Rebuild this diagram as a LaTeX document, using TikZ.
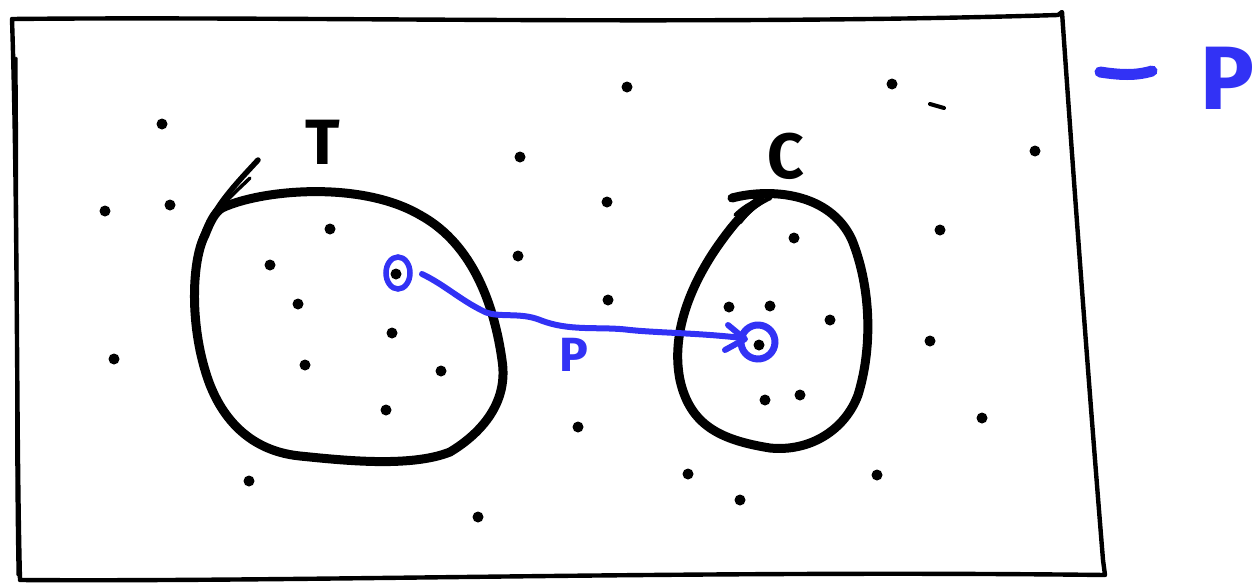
\documentclass[tikz,border=0pt]{standalone}
\usepackage{fontspec}
\setmainfont{Fira Sans}
\usetikzlibrary{arrows.meta,shapes.geometric}
\definecolor{pen}{RGB}{50,50,245}
\tikzset{
  frame/.style={line width=4.4pt, line join=round, line cap=round},
  blob/.style={line width=9pt, line join=round, line cap=round},
  speck/.style={fill=black, draw=none},
  blueline/.style={draw=pen, line width=6pt, line cap=round, line join=round},
  lbl/.style={inner sep=0pt, font=\fontsize{62}{62}\selectfont}
}
\begin{document}
\begin{tikzpicture}[x=1pt,y=-1pt]
\useasboundingbox (0,0) rectangle (1253,584);
% frame
\draw[frame] (12,19) .. controls (300,16) and (700,26) .. (1058,15) -- (1062,12)
  .. controls (1075,200) and (1090,400) .. (1103,560) -- (1105,575)
  .. controls (700,570) and (300,582) .. (20,580)
  .. controls (16,420) and (18,200) .. (12,19);
\draw[frame, line width=3pt] (16,58) .. controls (18,250) and (15,420) .. (18,575);
% blob T
\draw[blob] (222,208) .. controls (260,190) and (360,180) .. (420,215)
  .. controls (475,245) and (495,310) .. (502,360)
  .. controls (510,410) and (470,440) .. (450,452)
  .. controls (410,468) and (340,460) .. (300,456)
  .. controls (240,450) and (215,405) .. (205,370)
  .. controls (190,320) and (192,260) .. (205,235)
  .. controls (210,222) and (215,212) .. (222,208);
\draw[line width=5.5pt, line cap=round] (202,238) .. controls (215,205) and (235,185) .. (258,160);
\draw[line width=3.5pt, line cap=round] (212,220) .. controls (225,200) and (240,188) .. (250,178);
% blob C
\draw[blob] (732,198) .. controls (770,188) and (830,192) .. (852,240)
  .. controls (872,290) and (872,350) .. (858,395)
  .. controls (845,430) and (810,452) .. (770,448)
  .. controls (720,440) and (690,425) .. (680,380)
  .. controls (672,340) and (685,295) .. (715,250)
  .. controls (730,228) and (745,210) .. (760,200);
\draw[line width=4.5pt, line cap=round] (740,222) .. controls (748,212) and (755,205) .. (770,198);
\draw[line width=3.5pt, line cap=round] (735,215) .. controls (742,208) and (750,203) .. (758,200);
% labels
\node[lbl, font=\fontsize{64}{64}\selectfont\bfseries] (T) at (323,142) {T};
\node[lbl, font=\fontsize{64}{64}\selectfont\bfseries] (C) at (786,156) {C};
% specks
\foreach \p in {(162,124),(105,211),(170,205),(330,229),(270,265),(298,304),(392,333),
  (305,365),(441,371),(386,410),(114,359),(249,481),(478,517),(578,427),(518,256),
  (520,157),(607,202),(608,300),(627,87),(892,84),(1035,151),(940,230),(794,238),
  (729,307),(770,306),(830,320),(930,341),(765,400),(800,395),(982,418),(877,475),
  (688,474),(740,500),(759,345),(396,274)}
  \fill[speck] \p circle (5.5pt);
\draw[line width=4pt, line cap=round] (930,104) -- (944,108);
% blue
\node[draw=pen, line width=5.5pt, ellipse, minimum width=24pt, minimum height=32pt, inner sep=0pt] (a) at (398,273) {};
\coordinate (s) at (422,274);
\node[draw=pen, line width=7pt, ellipse, minimum width=34pt, minimum height=34pt, inner sep=0pt, rotate=20] (b) at (758,342) {};
\draw[blueline] (s) .. controls (445,285) and (460,300) .. (485,312)
  .. controls (500,318) and (520,312) .. (540,320)
  .. controls (570,332) and (600,326) .. (630,330)
  .. controls (660,333) and (700,333) .. (742,338);
\draw[blueline] (728,325) -- (745,339) -- (725,350);
\node[lbl, text=pen, font=\fontsize{48}{48}\selectfont\bfseries] (p1) at (574,355) {P};
\draw[blueline, line width=11pt] (1100,72) .. controls (1120,75) and (1135,76) .. (1152,71);
\node[lbl, text=pen, anchor=west, font=\fontsize{90}{90}\selectfont\bfseries] (p2) at (1200,78) {P};
\end{tikzpicture}
\end{document}
